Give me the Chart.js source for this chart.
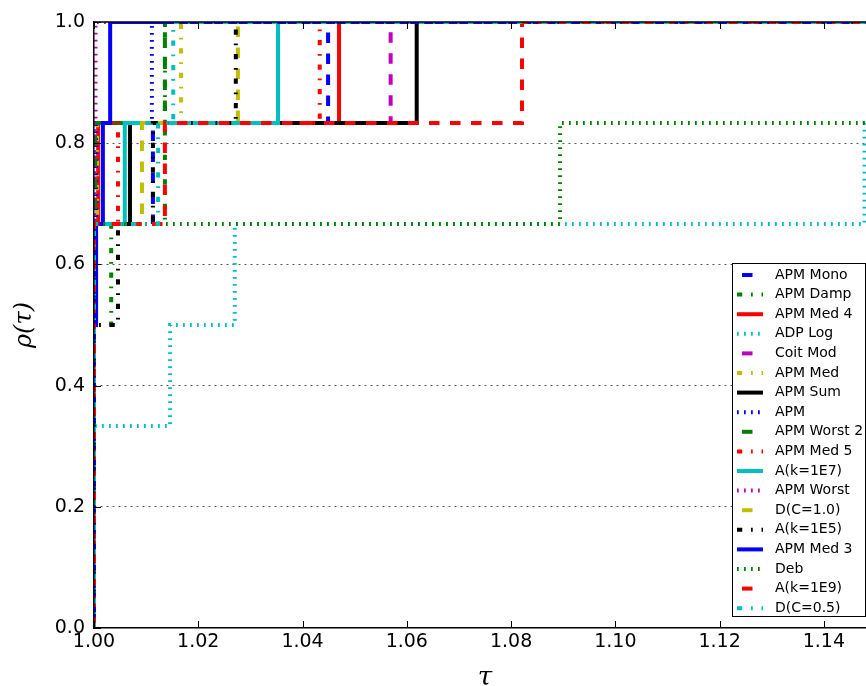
<!DOCTYPE html>
<html>
<head>
<meta charset="utf-8">
<script src="https://cdn.jsdelivr.net/npm/chart.js@4.4.0/dist/chart.umd.min.js"></script>
<style>
  html, body { margin: 0; padding: 0; background: #fff; overflow: hidden; }
  #marco { width: 866px; height: 686px; overflow: hidden; }
</style>
</head>
<body>
<div id="marco"><canvas id="perfil" width="880" height="686"></canvas></div>
<script>
// Perfil de rendimiento: ratio (tiempo / mejor tiempo) de cada método en los 6 problemas
const nombres = ['APM Mono', 'APM Damp', 'APM Med 4', 'ADP Log', 'Coit Mod', 'APM Med',
  'APM Sum', 'APM', 'APM Worst 2', 'APM Med 5', 'A(k=1E7)', 'APM Worst',
  'D(C=1.0)', 'A(k=1E5)', 'APM Med 3', 'Deb', 'A(k=1E9)', 'D(C=0.5)'];

const rApmMono   = [1, 1, 1, 1, 1.0113, 1.0449];
const rApmDamp   = [1, 1, 1, 1.0033, 1.0136, 1.0136];
const rApmMed4   = [1, 1, 1, 1, 1.0008, 1.0470];
const rAdpLog    = [1, 1, 1.0146, 1.0270, 1.1478, 1.2000];
const rCoitMod   = [1, 1, 1, 1, 1, 1.0569];
const rApmMed    = [1, 1, 1, 1, 1.0006, 1.0167];
const rApmSum    = [1, 1, 1, 1, 1.0069, 1.0619];
const rApm       = [1, 1, 1, 1, 1.0004, 1.0111];
const rApmWorst2 = [1, 1, 1, 1, 1.0002, 1.0136];
const rApmMed5   = [1, 1, 1, 1, 1.0046, 1.0433];
const rAk1e7     = [1, 1, 1, 1, 1.0059, 1.0353];
const rApmWorst  = [1, 1, 1, 1, 1, 1.0003];
const rDc10      = [1, 1, 1, 1, 1.0092, 1.0276];
const rAk1e5     = [1, 1, 1, 1.0046, 1.0113, 1.0272];
const rApmMed3   = [1, 1, 1, 1.0004, 1.0017, 1.0031];
const rDeb       = [1, 1, 1, 1, 1.0894, 1.2000];
const rAk1e9     = [1, 1, 1, 1, 1.0136, 1.0821];
const rDc05      = [1, 1, 1, 1, 1.0123, 1.0152];

const ratios = [rApmMono, rApmDamp, rApmMed4, rAdpLog, rCoitMod, rApmMed, rApmSum, rApm,
  rApmWorst2, rApmMed5, rAk1e7, rApmWorst, rDc10, rAk1e5, rApmMed3, rDeb, rAk1e9, rDc05];

const ticksX = [1.00, 1.02, 1.04, 1.06, 1.08, 1.10, 1.12, 1.14];
const ticksY = [0.0, 0.2, 0.4, 0.6, 0.8, 1.0];
const tauMax = 1.15;

// estilo clásico: colores bgrcmyk y trazos --, -., -, :
const colores = ['#0000ff', '#008000', '#ff0000', '#00bfbf', '#bf00bf', '#bfbf00', '#000000'];
const trazos = [[10.5, 10.5], [5.25, 8.75, 1.75, 8.75], [], [1.75, 5.25]];
const GROSOR = 4;

// fracción de problemas con ratio <= tau
function perfil(r) {
  const orden = [...r].sort((a, b) => a - b);
  const pts = [{ x: 1, y: 0 }];
  orden.forEach((t, i) => pts.push({ x: t, y: (i + 1) / orden.length }));
  pts.push({ x: Math.max(tauMax, orden[orden.length - 1]), y: 1 });
  return pts;
}

const datasets = ratios.map((r, i) => ({
  label: nombres[i],
  data: perfil(r),
  borderColor: colores[i % 7],
  borderDash: trazos[i % 4],
  borderWidth: GROSOR,
  stepped: 'before',
  pointRadius: 0,
  fill: false,
  clip: 0,
  order: -i // el último encima, como en matplotlib
}));

// marcas hacia dentro y borde superior/derecho
const marcas = {
  id: 'marcas',
  afterDraw(chart) {
    const { ctx, chartArea: a, scales: { x, y } } = chart;
    ctx.save();
    ctx.strokeStyle = '#000';
    ctx.lineWidth = 1;
    ctx.beginPath();
    ticksX.forEach(v => {
      const px = Math.round(x.getPixelForValue(v)) + 0.5;
      ctx.moveTo(px, a.bottom); ctx.lineTo(px, a.bottom - 7);
      ctx.moveTo(px, a.top); ctx.lineTo(px, a.top + 7);
    });
    ticksY.forEach(v => {
      const py = Math.round(y.getPixelForValue(v)) + 0.5;
      ctx.moveTo(a.left, py); ctx.lineTo(a.left + 7, py);
      ctx.moveTo(a.right, py); ctx.lineTo(a.right - 7, py);
    });
    ctx.stroke();
    ctx.lineWidth = 1.5;
    ctx.beginPath();
    ctx.moveTo(a.left, a.top); ctx.lineTo(a.right, a.top);
    ctx.lineTo(a.right, a.bottom);
    ctx.stroke();
    ctx.restore();
  }
};

// leyenda dentro del área, abajo a la derecha
const leyenda = {
  id: 'leyenda',
  afterDraw(chart) {
    const ctx = chart.ctx;
    const x0 = 732, y0 = 263, w = 133, h = 353, paso = 19.6;
    ctx.save();
    ctx.fillStyle = '#fff';
    ctx.fillRect(x0, y0, w, h);
    ctx.strokeStyle = '#000';
    ctx.lineWidth = 1;
    ctx.strokeRect(x0 + 0.5, y0 + 0.5, w, h);
    ctx.font = '14px "DejaVu Sans"';
    ctx.textBaseline = 'middle';
    chart.data.datasets.forEach((ds, i) => {
      const yy = y0 + 12 + i * paso;
      ctx.beginPath();
      ctx.strokeStyle = ds.borderColor;
      ctx.lineWidth = GROSOR;
      ctx.lineCap = 'butt';
      ctx.setLineDash(ds.borderDash);
      ctx.lineDashOffset = (i % 4 === 0) ? 16 : 0;
      ctx.moveTo(737, yy); ctx.lineTo(763, yy);
      ctx.stroke();
      ctx.setLineDash([]);
      ctx.fillStyle = '#000';
      ctx.fillText(ds.label, 775, yy);
    });
    ctx.restore();
  }
};

new Chart(document.getElementById('perfil').getContext('2d'), {
  type: 'line',
  data: { datasets },
  options: {
    responsive: false,
    animation: false,
    events: [],
    layout: { padding: { top: 22, right: 4, left: 0, bottom: 0 } },
    plugins: { legend: { display: false }, tooltip: { enabled: false } },
    scales: {
      x: {
        type: 'linear',
        min: 1,
        max: tauMax,
        afterFit: s => { s.height = 58; },
        afterBuildTicks: s => { s.ticks = ticksX.map(v => ({ value: v })); },
        grid: { display: false, drawTicks: false },
        border: { display: true, color: '#000', width: 1.5, z: 1 },
        ticks: {
          autoSkip: false, maxRotation: 0, padding: 3, color: '#000',
          font: { family: 'DejaVu Sans', size: 19 },
          callback: v => v.toFixed(2)
        },
        title: {
          display: true, text: 'τ', color: '#000',
          font: { family: 'DejaVu Serif', style: 'italic', size: 26, lineHeight: 0.62 },
          padding: { top: 0, bottom: 0 }
        }
      },
      y: {
        min: 0,
        max: 1,
        afterFit: s => { s.width = 94; },
        afterBuildTicks: s => { s.ticks = ticksY.map(v => ({ value: v })); },
        grid: {
          drawTicks: false,
          lineWidth: 1,
          color: c => (c.tick && c.tick.value > 0 && c.tick.value < 1) ? 'rgba(0,0,0,0.65)' : 'rgba(0,0,0,0)'
        },
        border: { display: true, color: '#000', width: 1.5, dash: [2, 4], z: 1 },
        ticks: {
          padding: 9, color: '#000',
          font: { family: 'DejaVu Sans', size: 19 },
          callback: v => v.toFixed(1)
        },
        title: {
          display: true, text: 'ρ(τ)', color: '#000',
          font: { family: 'DejaVu Serif', style: 'italic', size: 24 },
          padding: { top: 10, bottom: 0 }
        }
      }
    }
  },
  plugins: [marcas, leyenda]
});
</script>
</body>
</html>
